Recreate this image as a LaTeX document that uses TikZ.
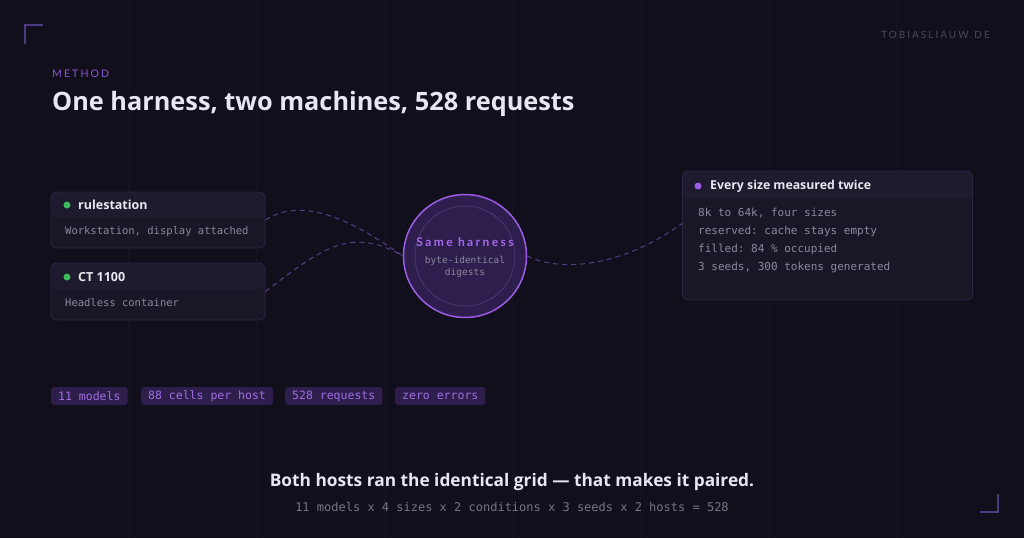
\documentclass[tikz,border=0pt]{standalone}
\usepackage{fontspec}
\setmainfont{Open Sans}
\setmonofont{DejaVu Sans Mono}
\newfontfamily\spaced[LetterSpace=20]{Lato}

\definecolor{bg}{RGB}{17,15,28}
\definecolor{gridcol}{RGB}{22,20,34}
\definecolor{bracketcol}{RGB}{78,58,128}
\definecolor{accent}{RGB}{155,93,229}
\definecolor{kickercol}{RGB}{140,85,210}
\definecolor{titlecol}{RGB}{232,230,240}
\definecolor{urlgrey}{RGB}{75,72,95}
\definecolor{cardhead}{RGB}{31,27,46}
\definecolor{cardbody}{RGB}{25,22,37}
\definecolor{cardline}{RGB}{45,37,70}
\definecolor{okgreen}{RGB}{60,185,90}
\definecolor{monogrey}{RGB}{140,136,155}
\definecolor{footgrey}{RGB}{120,116,135}
\definecolor{tagfill}{RGB}{45,30,75}
\definecolor{tagtext}{RGB}{160,110,225}
\definecolor{hubfill}{RGB}{46,30,78}
\definecolor{hubring}{RGB}{75,55,115}
\definecolor{hubtext}{RGB}{165,105,235}
\definecolor{linkcol}{RGB}{88,62,135}

\begin{document}
\begin{tikzpicture}[x=1pt, y=-1pt,
        txt/.style={inner sep=0pt, anchor=west},
        card/.style={draw=cardline, fill=cardbody, rounded corners=6pt, line width=0.8pt, inner sep=0pt},
        dot/.style={circle, inner sep=0pt, minimum size=7pt},
        tag/.style={fill=tagfill, rounded corners=3pt, inner xsep=7pt, inner ysep=0pt, minimum height=18pt,
            anchor=west, text=tagtext, font=\ttfamily\fontsize{11.5}{13}\selectfont},
        link/.style={draw=linkcol, dash pattern=on 5pt off 4pt, line width=1pt},
        bracket/.style={draw=bracketcol, line width=1.2pt}]
        \fill[bg] (0, 0) rectangle (1024, 538);
        \useasboundingbox (0, 0) rectangle (1024, 538);

        \draw[gridcol](128, 0) to (128, 538);
        \draw[gridcol](256, 0) to (256, 538);
        \draw[gridcol](384, 0) to (384, 538);
        \draw[gridcol](512, 0) to (512, 538);
        \draw[gridcol](640, 0) to (640, 538);
        \draw[gridcol](768, 0) to (768, 538);
        \draw[gridcol](896, 0) to (896, 538);

        \draw[bracket] (25, 44) -- (25, 25) -- (43, 25);
        \draw[bracket] (980, 512) -- (998, 512) -- (998, 494);

        \node[txt, anchor=east, text=urlgrey, font=\spaced\fontsize{10}{12}\selectfont] (url) at (990, 35) {TOBIASLIAUW.DE};
        \node[txt, text=kickercol, font=\spaced\fontsize{10.5}{12}\selectfont] (kicker) at (52, 74) {METHOD};
        \node[txt, text=titlecol, font=\bfseries\fontsize{25.3}{30}\selectfont] (title) at (52, 104) {One harness, two machines, 528 requests};

        % hosts
        \node[card, minimum width=214pt, minimum height=56pt,
            path picture={\fill[cardhead] (path picture bounding box.north west) rectangle ([yshift=-26pt]path picture bounding box.north east);}] (rule) at (158, 220) {};
        \node[dot, fill=okgreen] (ruledot) at (67, 205) {};
        \node[txt, text=titlecol, font=\bfseries\fontsize{12.5}{15}\selectfont] (rulename) at (78, 205) {rulestation};
        \node[txt, text=monogrey, font=\ttfamily\fontsize{10.5}{12}\selectfont] (ruledesc) at (65, 232) {Workstation, display attached};

        \node[card, minimum width=214pt, minimum height=57pt,
            path picture={\fill[cardhead] (path picture bounding box.north west) rectangle ([yshift=-26pt]path picture bounding box.north east);}] (ct) at (158, 291.5) {};
        \node[dot, fill=okgreen] (ctdot) at (67, 277) {};
        \node[txt, text=titlecol, font=\bfseries\fontsize{12.5}{15}\selectfont] (ctname) at (78, 277) {CT 1100};
        \node[txt, text=monogrey, font=\ttfamily\fontsize{10.5}{12}\selectfont] (ctdesc) at (65, 303) {Headless container};

        % harness
        \node[circle, draw=accent, fill=hubfill, line width=1.5pt, minimum size=123pt, inner sep=0pt] (hub) at (465, 256) {};
        \draw[hubring, line width=0.8pt] (hub.center) circle[radius=50];
        \node[text=hubtext, font=\spaced\bfseries\fontsize{12}{14}\selectfont] (hubname) at (465, 242) {Same harness};
        \node[text=monogrey, align=center, font=\ttfamily\fontsize{9.5}{12}\selectfont] (hubdesc) at (465, 267) {byte-identical\\digests};

        % sizes
        \node[card, minimum width=290pt, minimum height=129pt,
            path picture={\fill[cardhead] (path picture bounding box.north west) rectangle ([yshift=-28pt]path picture bounding box.north east);}] (every) at (827.5, 235.5) {};
        \node[dot, fill=accent] (everydot) at (698, 186) {};
        \node[txt, text=titlecol, font=\bfseries\fontsize{12.3}{15}\selectfont] (everyname) at (710, 186) {Every size measured twice};
        \node[txt, text=monogrey, font=\ttfamily\fontsize{11}{12}\selectfont] (line1) at (698, 213) {8k to 64k, four sizes};
        \node[txt, text=monogrey, font=\ttfamily\fontsize{11}{12}\selectfont] (line2) at (698, 231) {reserved: cache stays empty};
        \node[txt, text=monogrey, font=\ttfamily\fontsize{11}{12}\selectfont] (line3) at (698, 249) {filled: 84 \% occupied};
        \node[txt, text=monogrey, font=\ttfamily\fontsize{11}{12}\selectfont] (line4) at (698, 267) {3 seeds, 300 tokens generated};

        \draw[link] (rule.east) .. controls (300, 198) and (345, 215) .. (hub.west);
        \draw[link] (ct.east) .. controls (320, 250) and (350, 225) .. (hub.west);
        \draw[link] (hub.east) .. controls (560, 272) and (620, 268) .. ([yshift=12pt]every.west);

        \node[tag] (models) at (51, 396) {11 models};
        \node[tag] (cells) at (141, 396) {88 cells per host};
        \node[tag] (reqs) at (285, 396) {528 requests};
        \node[tag] (errors) at (395, 396) {zero errors};

        \node[text=titlecol, font=\bfseries\fontsize{17.3}{20}\selectfont] (claim) at (512, 482) {Both hosts ran the identical grid — that makes it paired.};
        \node[text=footgrey, font=\ttfamily\fontsize{12}{14}\selectfont] (formula) at (512, 507) {11 models x 4 sizes x 2 conditions x 3 seeds x 2 hosts = 528};
    \end{tikzpicture}
\end{document}
